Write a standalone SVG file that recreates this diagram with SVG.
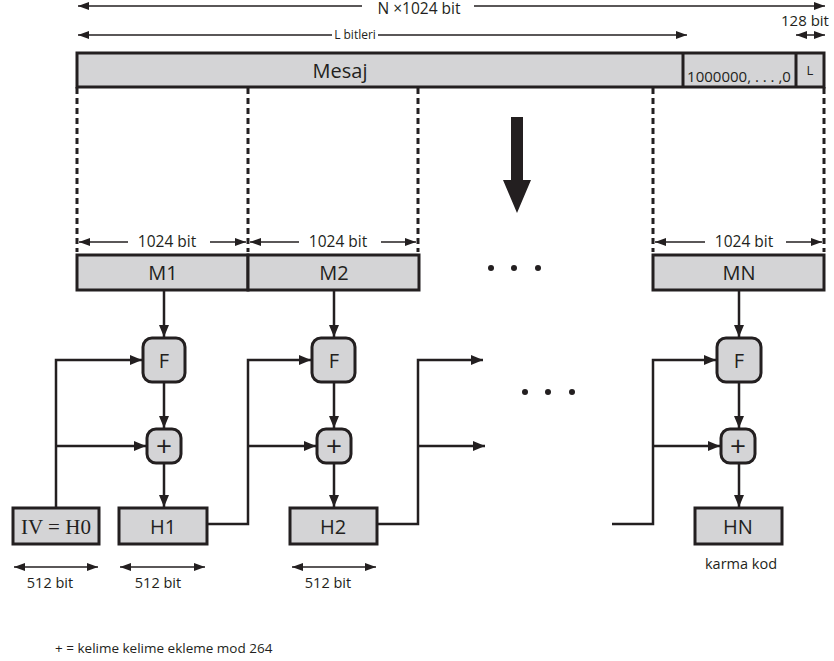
<svg xmlns="http://www.w3.org/2000/svg" width="834" height="661" viewBox="0 0 834 661">
<style>
text{font-family:"Open Sans","Noto Sans","Liberation Sans",sans-serif;fill:#231f20}
.box{fill:#d4d4d6;stroke:#231f20;stroke-width:3}
.ln{fill:none;stroke:#231f20;stroke-width:2.5}
.thin{fill:none;stroke:#231f20;stroke-width:1.5}
.dash{fill:none;stroke:#231f20;stroke-width:3;stroke-dasharray:6 4}
.lbl{font-size:20px;text-anchor:middle}
.plus{font-size:28px;text-anchor:middle}
.sm{font-size:14.5px;text-anchor:middle}
.md{font-size:15.5px;text-anchor:middle}
</style>
<defs>
<marker id="ah" markerUnits="userSpaceOnUse" markerWidth="12" markerHeight="10" refX="12" refY="5" orient="auto-start-reverse"><path d="M0,0 L12,5 L0,10 z" fill="#231f20"/></marker>
<marker id="ahs" markerUnits="userSpaceOnUse" markerWidth="11" markerHeight="8" refX="11" refY="4" orient="auto-start-reverse"><path d="M0,0 L11,4 L0,8 z" fill="#231f20"/></marker>
</defs>

<g id="dimensions">
<line class="thin" x1="78" y1="6" x2="362" y2="6" marker-start="url(#ahs)"/>
<line class="thin" x1="474" y1="6" x2="825" y2="6" marker-end="url(#ahs)"/>
<text x="419" y="14" style="font-size:15.5px;text-anchor:middle">N ×1024 bit</text>
<line class="thin" x1="78" y1="35" x2="332" y2="35" marker-start="url(#ahs)"/>
<line class="thin" x1="378" y1="35" x2="687" y2="35" marker-end="url(#ahs)"/>
<text x="355" y="39" style="font-size:12px;text-anchor:middle">L bitleri</text>
<text x="805" y="26" style="font-size:15px;text-anchor:middle">128 bit</text>
<line class="thin" x1="796" y1="35" x2="825" y2="35" marker-start="url(#ahs)" marker-end="url(#ahs)"/>
</g>

<g id="mesaj">
<rect class="box" x="77" y="53" width="747" height="34"/>
<line class="ln" x1="683" y1="53" x2="683" y2="87" style="stroke-width:3"/>
<line class="ln" x1="796" y1="53" x2="796" y2="87" style="stroke-width:3"/>
<text x="340" y="78" class="lbl">Mesaj</text>
<text x="739" y="82" style="font-size:15px;text-anchor:middle">1000000, . . . ,0</text>
<text x="810" y="75" style="font-size:13px;text-anchor:middle">L</text>
</g>

<g id="split">
<path class="ln" d="M77,87 V94 M248,87 V94 M418,87 V94 M653,87 V94 M824,87 V94" style="stroke-width:3"/>
<path class="dash" d="M77,98 V252 M248,98 V252 M418,98 V252 M653,98 V252 M824,98 V252"/>
<path d="M511,117 H523 V180 H531 L517,213 L503,180 H511 Z" fill="#231f20"/>
<g fill="#231f20"><circle cx="491" cy="268" r="3"/><circle cx="514" cy="268" r="3"/><circle cx="538" cy="268" r="3"/>
<circle cx="525" cy="392" r="3"/><circle cx="548" cy="392" r="3"/><circle cx="572" cy="392" r="3"/></g>
<line class="thin" x1="79" y1="242" x2="128" y2="242" marker-start="url(#ahs)"/>
<line class="thin" x1="210" y1="242" x2="246" y2="242" marker-end="url(#ahs)"/>
<text x="167" y="247" class="md">1024 bit</text>
<line class="thin" x1="250" y1="242" x2="299" y2="242" marker-start="url(#ahs)"/>
<line class="thin" x1="381" y1="242" x2="416" y2="242" marker-end="url(#ahs)"/>
<text x="338" y="247" class="md">1024 bit</text>
<line class="thin" x1="655" y1="242" x2="705" y2="242" marker-start="url(#ahs)"/>
<line class="thin" x1="786" y1="242" x2="822" y2="242" marker-end="url(#ahs)"/>
<text x="744" y="247" class="md">1024 bit</text>
</g>

<g id="M1"><rect class="box" x="77" y="255" width="171" height="35"/><text x="163" y="280" class="lbl">M1</text></g>
<g id="M2"><rect class="box" x="248" y="255" width="171" height="35"/><text x="334" y="280" class="lbl">M2</text></g>
<g id="MN"><rect class="box" x="653" y="255" width="171" height="35"/><text x="739" y="280" class="lbl">MN</text></g>

<g id="F1"><rect class="box" x="143" y="338" width="42" height="44" rx="9"/><text x="164" y="368" class="lbl">F</text></g>
<g id="F2"><rect class="box" x="312" y="338" width="43" height="44" rx="9"/><text x="334" y="368" class="lbl">F</text></g>
<g id="FN"><rect class="box" x="717" y="338" width="44" height="44" rx="9"/><text x="739" y="368" class="lbl">F</text></g>

<g id="P1"><rect class="box" x="147" y="429" width="34" height="34" rx="9"/><text x="164" y="456" class="plus">+</text></g>
<g id="P2"><rect class="box" x="317" y="429" width="34" height="34" rx="9"/><text x="334" y="456" class="plus">+</text></g>
<g id="PN"><rect class="box" x="721" y="429" width="34" height="34" rx="9"/><text x="738" y="456" class="plus">+</text></g>

<g id="H0"><rect class="box" x="13" y="508" width="86" height="36"/><text x="56" y="534" style="font-size:21px;text-anchor:middle;font-family:'Liberation Serif',serif">IV = H0</text></g>
<g id="H1"><rect class="box" x="119" y="508" width="88" height="36"/><text x="163" y="534" class="lbl">H1</text></g>
<g id="H2"><rect class="box" x="290" y="508" width="87" height="36"/><text x="333" y="534" class="lbl">H2</text></g>
<g id="HN"><rect class="box" x="695" y="508" width="87" height="36"/><text x="738" y="534" class="lbl">HN</text></g>

<g id="connectors">
<line class="ln" x1="164" y1="291" x2="164" y2="337" marker-end="url(#ah)"/>
<line class="ln" x1="164" y1="383" x2="164" y2="428" marker-end="url(#ah)"/>
<line class="ln" x1="164" y1="464" x2="164" y2="507" marker-end="url(#ah)"/>
<line class="ln" x1="334" y1="291" x2="334" y2="337" marker-end="url(#ah)"/>
<line class="ln" x1="334" y1="383" x2="334" y2="428" marker-end="url(#ah)"/>
<line class="ln" x1="334" y1="464" x2="334" y2="507" marker-end="url(#ah)"/>
<line class="ln" x1="739" y1="291" x2="739" y2="337" marker-end="url(#ah)"/>
<line class="ln" x1="739" y1="383" x2="739" y2="428" marker-end="url(#ah)"/>
<line class="ln" x1="739" y1="464" x2="739" y2="507" marker-end="url(#ah)"/>

<path class="ln" d="M56,507 V360 H142" marker-end="url(#ah)"/>
<path class="ln" d="M56,446 H146" marker-end="url(#ah)"/>
<path class="ln" d="M208,524 H248 V360 H311" marker-end="url(#ah)"/>
<path class="ln" d="M248,446 H316" marker-end="url(#ah)"/>
<path class="ln" d="M378,524 H418 V360 H483" marker-end="url(#ah)"/>
<path class="ln" d="M418,446 H485" marker-end="url(#ah)"/>
<path class="ln" d="M612,524 H653 V360 H716" marker-end="url(#ah)"/>
<path class="ln" d="M653,446 H720" marker-end="url(#ah)"/>
</g>

<g id="bits">
<line class="thin" x1="14" y1="567" x2="98" y2="567" marker-start="url(#ahs)" marker-end="url(#ahs)"/>
<text x="50" y="588" class="sm">512 bit</text>
<line class="thin" x1="120" y1="567" x2="205" y2="567" marker-start="url(#ahs)" marker-end="url(#ahs)"/>
<text x="158" y="588" class="sm">512 bit</text>
<line class="thin" x1="292" y1="567" x2="376" y2="567" marker-start="url(#ahs)" marker-end="url(#ahs)"/>
<text x="328" y="588" class="sm">512 bit</text>
<text x="741" y="569" class="sm">karma kod</text>
<text x="55" y="653" style="font-size:13.5px">+ = kelime kelime ekleme mod 264</text>
</g>
</svg>
